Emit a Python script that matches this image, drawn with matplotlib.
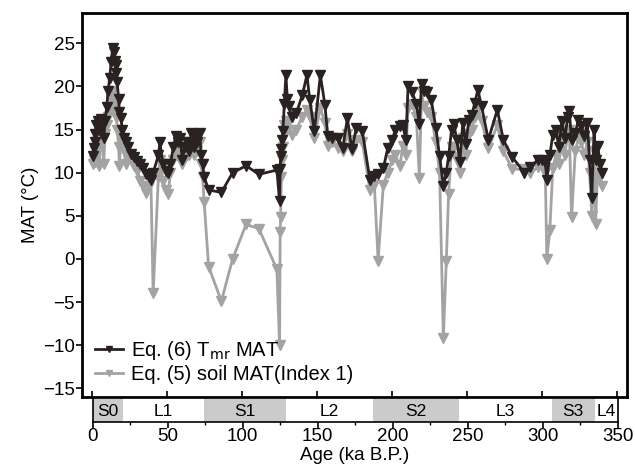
import numpy as np
import matplotlib
matplotlib.use('Agg')
from matplotlib import pyplot as plt
from matplotlib.patches import Rectangle

plt.rcParams['font.family'] = ['Liberation Sans', 'DejaVu Sans']

# ages (ka B.P.) shared by both series
age = [0.5, 1.0, 1.5, 2.0, 2.5, 3.5, 4.5, 5.5, 6.5, 7.5, 8.5, 9.5, 10.5, 11.5, 12.5,
       13.5, 14.5, 15.0, 15.5, 16.0, 16.5, 17.5, 18.0, 19.0, 20.0, 21.0, 22.5, 24.0,
       26.0, 28.0, 30.0, 32.0, 34.0, 36.0, 38.0, 39.0, 40.5, 44.0, 45.0, 47.0, 49.0,
       50.5, 52.0, 54.0, 55.5, 57.0, 58.5, 60.0, 61.5, 63.0, 64.5, 66.0, 67.5, 68.5,
       70.0, 71.5, 72.5, 73.5, 74.5, 77.5, 86.0, 93.5, 102.5, 111.0, 123.0, 124.8,
       125.2, 125.5, 126.0, 126.5, 127.0, 128.0, 129.0, 130.0, 131.0, 133.0, 136.0,
       140.0, 143.0, 145.0, 148.0, 152.0, 155.0, 157.0, 160.0, 164.0, 167.0, 170.0,
       173.0, 176.0, 180.0, 185.0, 188.0, 190.5, 194.0, 197.0, 200.0, 202.0, 205.0,
       207.0, 209.0, 210.5, 213.0, 216.0, 218.0, 219.5, 221.0, 223.0, 226.0, 229.0,
       231.5, 234.0, 236.0, 237.5, 239.5, 241.0, 243.0, 245.0, 247.0, 249.0, 251.0,
       253.0, 255.0, 257.0, 259.5, 264.0, 270.0, 274.0, 280.0, 288.0, 292.0, 297.0,
       300.0, 302.0, 303.0, 305.0, 307.0, 309.0, 311.0, 313.0, 315.0, 317.0, 318.0,
       319.5, 322.0, 324.0, 326.0, 328.0, 330.0, 331.5, 333.0, 334.5, 335.5, 337.0,
       338.5, 340.0]

# Eq. (6) Tmr MAT
tmr_mat = [11.9, 12.8, 13.6, 14.5, 15.5, 16.0, 15.0, 16.2, 15.3, 14.0, 16.0, 17.6, 19.5,
           21.0, 22.8, 24.5, 24.0, 23.0, 21.5, 22.5, 20.5, 18.5, 17.0, 16.3, 15.0, 14.0,
           13.5, 13.0, 12.2, 11.8, 11.3, 11.0, 10.5, 9.8, 9.5, 9.2, 10.0, 12.0, 13.5,
           11.0, 10.2, 10.0, 11.0, 13.0, 14.2, 13.5, 14.0, 11.5, 13.0, 13.5, 12.5, 14.6,
           13.0, 14.5, 13.5, 14.6, 12.0, 11.0, 9.5, 8.0, 7.7, 10.0, 10.8, 9.8, 10.3, 6.7,
           10.4, 11.9, 12.7, 13.8, 14.8, 18.0, 21.3, 18.5, 17.7, 16.4, 16.9, 19.0, 21.3,
           18.4, 14.8, 21.3, 17.9, 14.2, 14.0, 14.0, 12.9, 16.3, 12.7, 15.2, 14.8, 9.2,
           9.6, 9.8, 10.5, 12.9, 13.8, 15.0, 15.4, 15.5, 13.8, 20.0, 19.4, 18.0, 15.6,
           20.3, 19.5, 19.3, 18.4, 15.2, 11.9, 8.5, 10.0, 11.9, 15.0, 15.6, 13.8, 11.2,
           15.8, 13.3, 16.1, 16.7, 18.1, 19.6, 17.7, 13.8, 17.3, 13.8, 11.8, 10.0, 10.6,
           11.5, 11.5, 11.2, 9.2, 12.0, 14.4, 15.0, 13.0, 16.0, 14.0, 16.5, 17.1, 13.8,
           14.6, 16.1, 15.4, 14.2, 15.8, 11.5, 7.1, 15.0, 11.5, 13.1, 11.0, 10.0]

# Eq. (5) soil MAT (Index 1)
soil_mat = [11.0, 11.5, 12.5, 11.2, 13.5, 14.5, 10.8, 13.8, 14.0, 11.0, 14.5, 15.5, 16.5,
            17.5, 18.5, 19.5, 18.5, 17.0, 16.5, 18.5, 15.0, 13.0, 10.8, 14.0, 13.5, 12.5,
            11.0, 12.0, 11.5, 10.8, 10.2, 9.0, 8.5, 7.6, 8.5, 9.0, -4.0, 9.5, 11.5, 9.0,
            8.0, 7.5, 10.0, 11.5, 12.5, 12.0, 13.0, 11.0, 12.5, 12.0, 12.0, 13.5, 12.0,
            13.5, 12.5, 13.5, 11.0, 9.5, 6.6, -0.9, -4.9, 0.0, 4.0, 3.5, -1.2, -10.0,
            3.1, 4.8, 9.5, 11.5, 13.0, 15.5, 16.0, 15.0, 16.0, 14.4, 15.0, 16.5, 17.3,
            16.5, 14.0, 17.5, 15.8, 13.1, 13.5, 12.9, 12.5, 14.5, 12.5, 13.8, 13.5, 8.0,
            8.6, -0.2, 8.6, 10.0, 11.5, 12.0, 10.8, 13.1, 12.0, 17.5, 18.0, 16.5, 9.4,
            19.3, 17.7, 17.0, 16.5, 13.5, 10.0, -9.2, -0.2, 7.5, 13.0, 13.0, 11.5, 10.0,
            14.0, 12.0, 14.5, 15.0, 16.5, 17.5, 16.0, 12.8, 15.5, 12.5, 10.4, 10.4, 10.0,
            10.6, 11.0, 10.0, 0.0, 3.3, 10.5, 12.0, 11.0, 14.0, 12.0, 14.5, 15.0, 4.8,
            12.5, 14.0, 13.5, 12.0, 13.5, 10.0, 5.0, 12.5, 4.0, 11.0, 9.5, 8.5]

# stratigraphic units
units = ['S0', 'L1', 'S1', 'L2', 'S2', 'L3', 'S3', 'L4']
unit_start = [0, 20, 74, 129, 187, 244, 306, 335]
unit_end = [20, 74, 129, 187, 244, 306, 335, 350]

black = '#2a2121'
grey = '#a3a3a3'

fig = plt.figure(figsize=(6.35, 4.68), dpi=100)
ax = fig.add_axes([0.129, 0.152, 0.858, 0.820])
sax = fig.add_axes([0.1457, 0.098, 0.8268, 0.052])

ax.plot(age, soil_mat, '-v', color=grey, lw=2, ms=7.5, mec=grey,
        label='Eq. (5) soil MAT(Index 1)', zorder=2)
ax.plot(age, tmr_mat, '-v', color=black, lw=2, ms=7.5, mec=black,
        label='Eq. (6) T$_{\\rm mr}$ MAT', zorder=3)

ax.set_xlim(-7, 356.3)
ax.set_ylim(-16, 28.5)
ax.set_yticks(np.arange(-15, 30, 5))
ax.set_yticklabels([('\u2212%d' % -v) if v < 0 else str(v) for v in range(-15, 30, 5)])
ax.set_xticks(np.arange(0, 351, 50))
ax.tick_params(axis='x', direction='in', length=4, width=1.2, labelbottom=False)
ax.tick_params(axis='y', direction='out', length=4, width=1.2, labelsize=13.5, pad=1)
for s in ax.spines.values():
    s.set_linewidth(2)
ax.set_ylabel('MAT (\u00b0C)', fontsize=13.5, labelpad=3)

h, l = ax.get_legend_handles_labels()
ax.legend(h[::-1], l[::-1], loc='lower left', bbox_to_anchor=(0.0, 0.0),
          frameon=False, fontsize=14.5, handlelength=1.4, markerscale=0.55,
          borderaxespad=0.25, labelspacing=0.15, handletextpad=0.4)

# stratigraphy bar
for u, a0, a1 in zip(units, unit_start, unit_end):
    fc = '#cbcbcb' if u.startswith('S') else 'white'
    sax.add_patch(Rectangle((a0, 0), a1 - a0, 1, facecolor=fc, edgecolor='none'))
    sax.text((a0 + a1) / 2, 0.45, u, ha='center', va='center', fontsize=12.5)
sax.set_xlim(0, 350)
sax.set_ylim(0, 1)
sax.set_yticks([])
sax.set_xticks(np.arange(0, 351, 50))
sax.set_xticks(np.arange(25, 350, 50), minor=True)
sax.tick_params(axis='x', which='major', direction='out', length=4, width=1.2,
                labelsize=13.5, pad=0.5)
sax.tick_params(axis='x', which='minor', direction='out', length=2.5, width=1)
for s in sax.spines.values():
    s.set_linewidth(1.2)
sax.set_xlabel('Age (ka B.P.)', fontsize=13.5, labelpad=1)

plt.savefig('out.png', dpi=100)
